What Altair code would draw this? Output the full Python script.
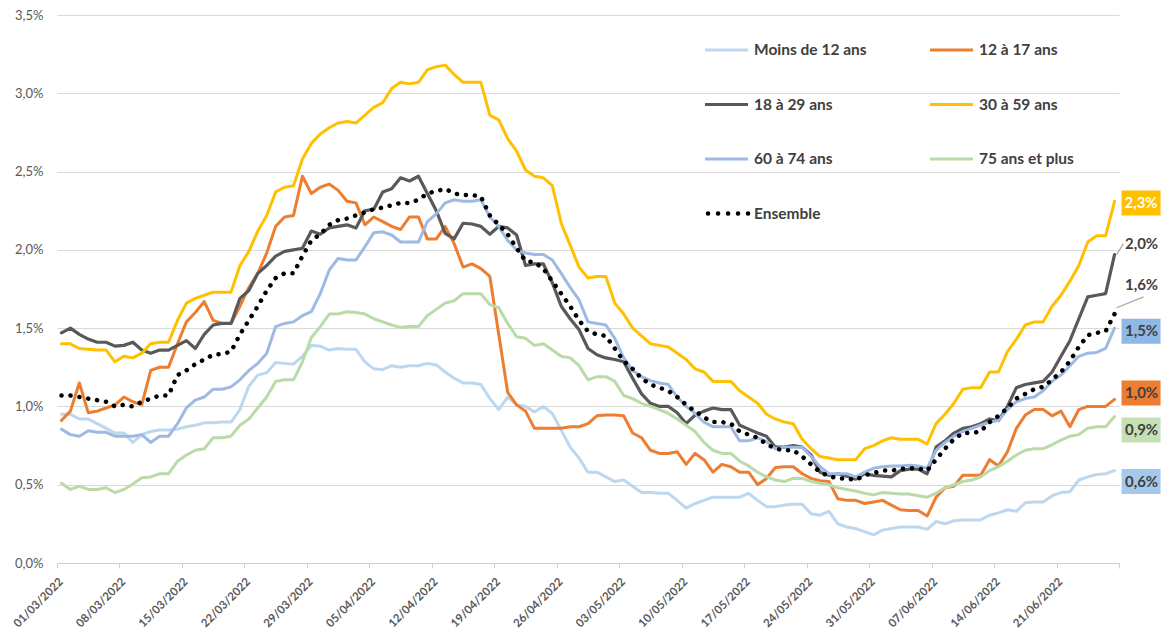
import altair as alt
import pandas as pd

FONT = "Lato"

# ---------------- data ----------------
series_names = ["Moins de 12 ans", "12 à 17 ans", "18 à 29 ans", "30 à 59 ans",
                "60 à 74 ans", "75 ans et plus", "Ensemble"]
series_colors = ["#BDD7EE", "#ED7D31", "#595959", "#FFC000", "#9EB9E4", "#B9DBA8", "#000000"]

dates = pd.date_range("2022-03-01", "2022-06-27", freq="D")          # 119 days
tick_dates = pd.date_range("2022-03-01", "2022-06-28", freq="7D")    # weekly ticks

moins_12 = [
    0.95, 0.95, 0.92, 0.92, 0.89, 0.86, 0.83, 0.83, 0.77, 0.82,
    0.84, 0.85, 0.85, 0.855, 0.87, 0.88, 0.895, 0.895, 0.90, 0.90,
    0.98, 1.13, 1.20, 1.215, 1.28, 1.275, 1.27, 1.32, 1.39, 1.385,
    1.36, 1.37, 1.365, 1.365, 1.285, 1.24, 1.235, 1.26, 1.25, 1.26,
    1.26, 1.275, 1.265, 1.22, 1.18, 1.15, 1.15, 1.14, 1.05, 0.98,
    1.06, 1.01, 1.00, 0.965, 1.00, 0.955, 0.85, 0.74, 0.67, 0.58,
    0.58, 0.55, 0.52, 0.53, 0.49, 0.45, 0.45, 0.445, 0.445, 0.40,
    0.35, 0.38, 0.40, 0.42, 0.42, 0.42, 0.42, 0.445, 0.40, 0.36,
    0.36, 0.37, 0.375, 0.375, 0.315, 0.305, 0.33, 0.25, 0.23, 0.22,
    0.20, 0.18, 0.21, 0.22, 0.23, 0.23, 0.23, 0.215, 0.265, 0.25,
    0.27, 0.275, 0.275, 0.275, 0.305, 0.32, 0.34, 0.33, 0.385, 0.39,
    0.39, 0.43, 0.45, 0.455, 0.53, 0.55, 0.565, 0.57, 0.59,
]
ans_12_17 = [
    0.91, 0.97, 1.15, 0.96, 0.97, 0.99, 1.01, 1.06, 1.03, 1.01,
    1.23, 1.25, 1.25, 1.40, 1.54, 1.60, 1.67, 1.55, 1.53, 1.53,
    1.64, 1.76, 1.85, 1.98, 2.15, 2.21, 2.22, 2.47, 2.36, 2.40,
    2.42, 2.38, 2.31, 2.30, 2.16, 2.21, 2.18, 2.15, 2.13, 2.21,
    2.21, 2.07, 2.07, 2.15, 2.04, 1.89, 1.91, 1.88, 1.83, 1.46,
    1.09, 1.01, 0.97, 0.86, 0.86, 0.86, 0.86, 0.87, 0.87, 0.89,
    0.94, 0.945, 0.945, 0.94, 0.83, 0.80, 0.72, 0.70, 0.70, 0.71,
    0.63, 0.70, 0.66, 0.58, 0.63, 0.615, 0.58, 0.58, 0.50, 0.54,
    0.61, 0.615, 0.615, 0.57, 0.54, 0.525, 0.52, 0.41, 0.40, 0.40,
    0.38, 0.39, 0.40, 0.37, 0.34, 0.335, 0.335, 0.30, 0.42, 0.48,
    0.49, 0.56, 0.56, 0.56, 0.66, 0.62, 0.71, 0.86, 0.945, 0.98,
    0.98, 0.94, 0.97, 0.87, 0.98, 1.00, 1.00, 1.00, 1.045,
]
ans_18_29 = [
    1.47, 1.50, 1.46, 1.43, 1.41, 1.41, 1.385, 1.39, 1.41, 1.36,
    1.34, 1.36, 1.36, 1.39, 1.42, 1.37, 1.46, 1.52, 1.53, 1.53,
    1.69, 1.74, 1.85, 1.90, 1.96, 1.99, 2.00, 2.01, 2.12, 2.10,
    2.14, 2.15, 2.16, 2.14, 2.25, 2.26, 2.37, 2.39, 2.46, 2.44,
    2.47, 2.36, 2.25, 2.105, 2.07, 2.17, 2.165, 2.15, 2.10, 2.15,
    2.14, 2.095, 1.90, 1.91, 1.91, 1.79, 1.64, 1.56, 1.49, 1.37,
    1.33, 1.31, 1.30, 1.285, 1.18, 1.08, 1.02, 1.00, 1.00, 0.96,
    0.89, 0.945, 0.97, 0.99, 0.98, 0.98, 0.88, 0.855, 0.83, 0.81,
    0.74, 0.74, 0.75, 0.74, 0.69, 0.58, 0.56, 0.57, 0.555, 0.535,
    0.57, 0.56, 0.555, 0.55, 0.59, 0.60, 0.60, 0.57, 0.74, 0.78,
    0.83, 0.86, 0.87, 0.89, 0.92, 0.91, 1.00, 1.12, 1.14, 1.15,
    1.16, 1.22, 1.32, 1.42, 1.56, 1.70, 1.71, 1.72, 1.97,
]
ans_30_59 = [
    1.40, 1.40, 1.37, 1.365, 1.36, 1.36, 1.285, 1.32, 1.31, 1.34,
    1.40, 1.41, 1.41, 1.55, 1.66, 1.69, 1.71, 1.73, 1.73, 1.73,
    1.90, 1.99, 2.12, 2.22, 2.37, 2.40, 2.41, 2.58, 2.68, 2.74,
    2.78, 2.81, 2.82, 2.81, 2.86, 2.91, 2.94, 3.03, 3.07, 3.06,
    3.07, 3.15, 3.17, 3.18, 3.12, 3.07, 3.07, 3.07, 2.86, 2.83,
    2.71, 2.63, 2.51, 2.47, 2.46, 2.41, 2.17, 2.03, 1.89, 1.82,
    1.83, 1.83, 1.66, 1.59, 1.50, 1.45, 1.40, 1.39, 1.38, 1.34,
    1.30, 1.24, 1.22, 1.16, 1.16, 1.16, 1.10, 1.06, 1.02, 0.95,
    0.92, 0.90, 0.89, 0.79, 0.73, 0.68, 0.67, 0.66, 0.66, 0.66,
    0.73, 0.75, 0.78, 0.80, 0.79, 0.79, 0.79, 0.76, 0.89, 0.95,
    1.02, 1.11, 1.12, 1.12, 1.22, 1.22, 1.35, 1.43, 1.52, 1.54,
    1.54, 1.64, 1.71, 1.80, 1.90, 2.05, 2.09, 2.09, 2.31,
]
ans_60_74 = [
    0.855, 0.82, 0.81, 0.845, 0.835, 0.835, 0.81, 0.81, 0.81, 0.82,
    0.77, 0.81, 0.81, 0.89, 0.99, 1.04, 1.06, 1.11, 1.11, 1.125,
    1.17, 1.23, 1.275, 1.34, 1.51, 1.53, 1.54, 1.58, 1.605, 1.72,
    1.87, 1.945, 1.935, 1.935, 2.02, 2.11, 2.115, 2.095, 2.05, 2.05,
    2.05, 2.18, 2.23, 2.30, 2.32, 2.31, 2.31, 2.32, 2.21, 2.15,
    2.06, 2.00, 1.98, 1.97, 1.97, 1.935, 1.85, 1.76, 1.68, 1.54,
    1.53, 1.52, 1.435, 1.31, 1.23, 1.19, 1.165, 1.15, 1.14, 1.06,
    1.00, 0.955, 0.90, 0.87, 0.87, 0.87, 0.78, 0.78, 0.80, 0.775,
    0.73, 0.74, 0.74, 0.74, 0.68, 0.615, 0.57, 0.57, 0.57, 0.55,
    0.58, 0.605, 0.615, 0.62, 0.62, 0.625, 0.62, 0.605, 0.72, 0.77,
    0.81, 0.84, 0.86, 0.88, 0.90, 0.91, 0.98, 1.03, 1.05, 1.06,
    1.10, 1.16, 1.20, 1.26, 1.32, 1.34, 1.345, 1.37, 1.50,
]
ans_75_plus = [
    0.51, 0.47, 0.49, 0.47, 0.47, 0.48, 0.45, 0.47, 0.505, 0.545,
    0.55, 0.57, 0.57, 0.65, 0.69, 0.72, 0.73, 0.80, 0.80, 0.81,
    0.88, 0.92, 0.99, 1.06, 1.16, 1.17, 1.17, 1.285, 1.44, 1.51,
    1.59, 1.59, 1.605, 1.60, 1.59, 1.56, 1.54, 1.52, 1.505, 1.51,
    1.51, 1.58, 1.62, 1.66, 1.675, 1.72, 1.72, 1.72, 1.65, 1.63,
    1.53, 1.445, 1.435, 1.39, 1.40, 1.36, 1.32, 1.31, 1.26, 1.17,
    1.19, 1.19, 1.16, 1.07, 1.05, 1.02, 1.00, 0.98, 0.955, 0.92,
    0.88, 0.84, 0.77, 0.72, 0.70, 0.70, 0.65, 0.62, 0.58, 0.55,
    0.53, 0.52, 0.54, 0.54, 0.52, 0.51, 0.50, 0.48, 0.47, 0.46,
    0.445, 0.435, 0.45, 0.445, 0.44, 0.44, 0.43, 0.42, 0.445, 0.48,
    0.50, 0.52, 0.53, 0.55, 0.59, 0.615, 0.65, 0.69, 0.72, 0.73,
    0.73, 0.755, 0.785, 0.81, 0.82, 0.86, 0.87, 0.87, 0.935,
]
ensemble = [
    1.07, 1.07, 1.06, 1.05, 1.04, 1.03, 1.00, 1.01, 1.00, 1.03,
    1.05, 1.07, 1.07, 1.20, 1.23, 1.27, 1.30, 1.33, 1.335, 1.35,
    1.46, 1.55, 1.64, 1.74, 1.82, 1.85, 1.85, 1.96, 2.06, 2.10,
    2.16, 2.19, 2.20, 2.22, 2.24, 2.26, 2.27, 2.285, 2.30, 2.30,
    2.32, 2.36, 2.375, 2.39, 2.36, 2.35, 2.35, 2.34, 2.22, 2.16,
    2.10, 2.01, 1.93, 1.92, 1.88, 1.80, 1.72, 1.64, 1.55, 1.48,
    1.46, 1.45, 1.37, 1.29, 1.24, 1.18, 1.14, 1.12, 1.10, 1.06,
    1.01, 0.97, 0.93, 0.90, 0.90, 0.89, 0.84, 0.82, 0.80, 0.76,
    0.73, 0.72, 0.72, 0.68, 0.63, 0.58, 0.555, 0.54, 0.54, 0.53,
    0.56, 0.575, 0.59, 0.59, 0.60, 0.605, 0.605, 0.59, 0.66, 0.73,
    0.79, 0.83, 0.83, 0.84, 0.90, 0.94, 0.99, 1.05, 1.08, 1.11,
    1.125, 1.17, 1.22, 1.29, 1.38, 1.455, 1.47, 1.48, 1.59,
]

y_ticks = [0.0, 0.5, 1.0, 1.5, 2.0, 2.5, 3.0, 3.5]

# ---------------- layout / style config ----------------
label_shift = {  # vertical shift of end labels (in % units) to avoid overlaps
    "30 à 59 ans": -0.01, "18 à 29 ans": 0.07, "Ensemble": 0.185,
    "60 à 74 ans": -0.02, "12 à 17 ans": 0.04, "75 ans et plus": -0.085,
    "Moins de 12 ans": -0.07,
}
box_fill = {"30 à 59 ans": "#FFC000", "60 à 74 ans": "#8EB8E5", "12 à 17 ans": "#ED7D31",
            "75 ans et plus": "#C5E0B4", "Moins de 12 ans": "#A5C9EA"}

# ---------------- tables ----------------
series_values = dict(zip(series_names, [moins_12, ans_12_17, ans_18_29, ans_30_59,
                                        ans_60_74, ans_75_plus, ensemble]))
half_day = pd.Timedelta(hours=12)   # points sit in the middle of each day slot
rows = []
for name, vals in series_values.items():
    assert len(vals) == len(dates), (name, len(vals))
    for d, v in zip(dates, vals):
        rows.append({"serie": name, "date": d + half_day, "taux": v})
df = pd.DataFrame(rows)

end_rows = []
for name, vals in series_values.items():
    v = vals[-1]
    end_rows.append({"serie": name, "date": dates[-1] + half_day, "taux": v,
                     "ly": v + label_shift[name],
                     "label": f"{v:.1f}".replace(".", ",") + "%",
                     "boxed": name in box_fill})
end_df = pd.DataFrame(end_rows)

legend_df = pd.DataFrame({"serie": series_names, "rang": list(range(len(series_names)))})

# ---------------- encodings ----------------
tick_vals = [alt.DateTime(year=d.year, month=d.month, date=d.day) for d in tick_dates]
x_scale = alt.Scale(domain=[alt.DateTime(year=2022, month=3, date=1),
                            alt.DateTime(year=2022, month=6, date=28)], nice=False)
x_axis = alt.Axis(values=tick_vals,
                  labelExpr="(month(datum.value) == 5 && date(datum.value) == 28) ? '' : timeFormat(datum.value, '%d/%m/%Y')",
                  labelAngle=-45, labelAlign="right", labelBaseline="middle",
                  labelFont=FONT, labelFontSize=11.5, labelFontWeight="bold", labelColor="#595959",
                  labelPadding=12, labelOffset=4, labelFlush=False, labelOverlap=False, labelBound=False,
                  tickSize=5, tickColor="#D0D0D0", domainColor="#D0D0D0", grid=False, title=None)
y_scale = alt.Scale(domain=[0, 3.5], nice=False)
y_axis = alt.Axis(values=y_ticks,
                  labelExpr="replace(format(datum.value, '.1f'), '.', ',') + '%'",
                  labelFont=FONT, labelFontSize=13, labelColor="#595959", labelPadding=14,
                  ticks=False, tickSize=0, domain=False, grid=True, gridColor="#D9D9D9",
                  gridWidth=1, title=None)

x_enc = alt.X("date:T", scale=x_scale, axis=x_axis, title=None)
y_enc = alt.Y("taux:Q", scale=y_scale, axis=y_axis, title=None)
color_enc = alt.Color("serie:N", scale=alt.Scale(domain=series_names, range=series_colors), legend=None)

layers = []
for name in series_names[:-1]:
    layers.append(
        alt.Chart(df).transform_filter(alt.datum.serie == name)
        .mark_line(strokeWidth=3.2 if name == "18 à 29 ans" else 3, strokeJoin="round", strokeCap="round")
        .encode(x=x_enc, y=y_enc, color=color_enc)
    )
layers.append(
    alt.Chart(df).transform_filter(alt.datum.serie == "Ensemble")
    .mark_line(strokeWidth=4.5, strokeDash=[0.1, 8.9], strokeCap="round", strokeJoin="round")
    .encode(x=x_enc, y=y_enc, color=color_enc)
)

# ---------------- in-plot legend (2 columns) ----------------
leg = alt.Chart(legend_df).transform_calculate(
    col="datum.rang % 2", row="floor(datum.rang / 2)"
).transform_calculate(
    sx="648 + 225 * datum.col", sx2="691 + 225 * datum.col",
    tx="697 + 225 * datum.col", sy="35 + 54.5 * datum.row"
)
lx = alt.X("sx:Q", scale=None, axis=None)
ly = alt.Y("sy:Q", scale=None, axis=None)
layers.append(
    leg.transform_filter(alt.datum.serie != "Ensemble").mark_rule(strokeWidth=3)
    .encode(x=lx, x2="sx2:Q", y=ly, color=color_enc)
)
layers.append(
    leg.transform_filter(alt.datum.serie == "Ensemble")
    .mark_rule(strokeWidth=4.5, strokeDash=[0.1, 9.9], strokeCap="round", xOffset=3, x2Offset=0.5)
    .encode(x=lx, x2="sx2:Q", y=ly, color=color_enc)
)
layers.append(
    leg.mark_text(align="left", baseline="middle", font=FONT, fontSize=15.5, fontWeight="bold",
                  color="#404040")
    .encode(x=alt.X("tx:Q", scale=None, axis=None), y=ly, text="serie:N")
)

# ---------------- end-of-line labels ----------------
end_base = alt.Chart(end_df)
yl_enc = alt.Y("ly:Q", scale=y_scale, axis=y_axis, title=None)
layers.append(
    end_base.transform_filter(alt.datum.boxed == True)
    .mark_rect(xOffset=7, x2Offset=46, yOffset=-12.5, y2Offset=12.5)
    .encode(x=x_enc, x2="date:T", y=yl_enc, y2="ly:Q",
            fill=alt.Fill("serie:N", scale=alt.Scale(domain=list(box_fill.keys()),
                                                     range=list(box_fill.values())), legend=None))
)
layers.append(
    end_base.transform_filter(alt.datum.serie == "18 à 29 ans")
    .mark_rule(color="#A6A6A6", strokeWidth=1.2, xOffset=2, x2Offset=9)
    .encode(x=x_enc, x2="date:T", y=y_enc, y2="ly:Q")
)
layers.append(
    end_base.transform_filter(alt.datum.serie == "Ensemble")
    .transform_calculate(y0="datum.taux + 0.04", y1="datum.ly - 0.075")
    .mark_rule(color="#A6A6A6", strokeWidth=1.2, xOffset=2, x2Offset=29)
    .encode(x=x_enc, x2="date:T", y=alt.Y("y0:Q", scale=y_scale, axis=y_axis, title=None), y2="y1:Q")
)
layers.append(
    end_base.transform_filter(alt.datum.serie == "30 à 59 ans")
    .mark_text(xOffset=26.5, align="center", baseline="middle", font=FONT, fontSize=15,
               fontWeight="bold", color="white")
    .encode(x=x_enc, y=yl_enc, text="label:N")
)
layers.append(
    end_base.transform_filter(alt.datum.serie != "30 à 59 ans")
    .mark_text(xOffset=27, align="center", baseline="middle", font=FONT, fontSize=15,
               fontWeight="bold", color="#404040")
    .encode(x=x_enc, y=yl_enc, text="label:N")
)

chart = alt.layer(*layers).properties(
    width=1062, height=548,
    padding={"left": 49, "top": 7, "right": 42, "bottom": 74},
    autosize=alt.AutoSizeParams(type="none"),
    background="white",
).configure_view(stroke=None)

chart.save("out.html", embed_options={"renderer": "svg", "actions": False})
